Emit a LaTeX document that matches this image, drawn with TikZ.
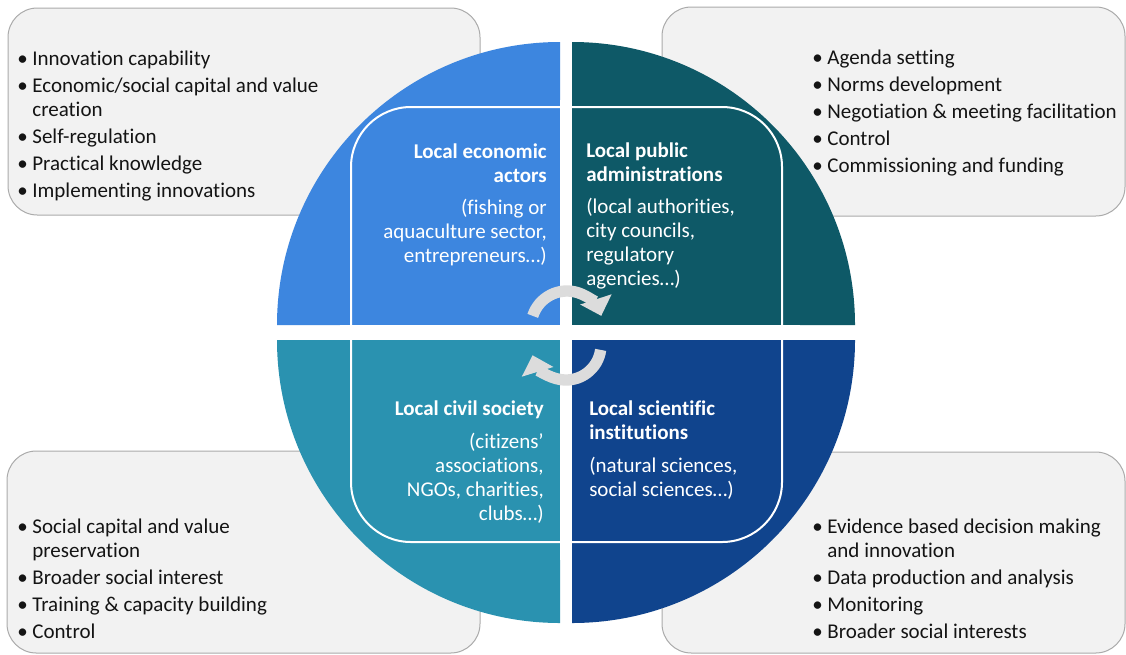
\documentclass[tikz,border=0pt]{standalone}
\usepackage{fontspec}
\setmainfont{Carlito}[Ligatures=NoCommon]
\usetikzlibrary{arrows.meta}
\definecolor{qTL}{HTML}{3D86DF}
\definecolor{qTR}{HTML}{0E5967}
\definecolor{qBL}{HTML}{2A92B0}
\definecolor{qBR}{HTML}{10448D}
\definecolor{boxfill}{HTML}{F2F2F2}
\definecolor{boxline}{HTML}{ABABAB}
\definecolor{arrowgray}{HTML}{DCDCDC}
\definecolor{listink}{HTML}{141414}
\begin{document}
\begin{tikzpicture}[x=0.75pt,y=-0.75pt,
  infobox/.style={fill=boxfill,draw=boxline,line width=0.75pt,rounded corners=22pt},
  listtext/.style={inner sep=0pt,anchor=base west,text=listink,font=\fontsize{15.75pt}{18pt}\selectfont},
  qtext/.style={inner sep=0pt,text=white,font=\fontsize{15.75pt}{18pt}\selectfont},
  cyc/.style={draw=arrowgray,line width=8.5pt,-{Triangle[width=24pt,length=13pt]}}
]
\useasboundingbox (0,0) rectangle (1126,654);
\fill[white] (0,0) rectangle (1126,654);

% grey information boxes
\path[infobox] (8,8) rectangle (480,215);
\path[infobox] (662,7) rectangle (1125,216);
\path[infobox] (7,451) rectangle (480,653);
\path[infobox] (662,452) rectangle (1125,653);

% quadrants
\fill[qTL] (560,325) -- (277,325) arc[start angle=180,end angle=270,radius=283] -- cycle;
\fill[qTR] (572,325) -- (572,42) arc[start angle=270,end angle=360,radius=283] -- cycle;
\fill[qBL] (560,340) -- (560,623) arc[start angle=90,end angle=180,radius=283] -- cycle;
\fill[qBR] (572,340) -- (855,340) arc[start angle=0,end angle=90,radius=283] -- cycle;

% inner rounded square
\draw[white,line width=1.5pt,rounded corners=45pt] (351,107) rectangle (782,542);
% gaps
\fill[white] (560,100) rectangle (572,560);
\fill[white] (340,325) rectangle (800,340);

% cycle arrows
\coordinate (cu) at (567,327);
\coordinate (cl) at (566,345);
\draw[cyc] ([shift={(198:36)}]cu) arc[start angle=198,end angle=342,radius=36];
\draw[cyc] ([shift={(8:35)}]cl) arc[start angle=8,end angle=163,radius=35];

% quadrant texts
\node[qtext,anchor=base east] (econ) at (547,158) {\begin{tabular}[t]{@{}r@{}}\textbf{Local economic}\\ \textbf{actors}\\[6pt] (fishing or\\ aquaculture sector,\\ entrepreneurs…)\end{tabular}};
\node[qtext,anchor=base west] (publ) at (586,157) {\begin{tabular}[t]{@{}l@{}}\textbf{Local public}\\ \textbf{administrations}\\[6pt] (local authorities,\\ city councils,\\ regulatory\\ agencies…)\end{tabular}};
\node[qtext,anchor=base east] (civil) at (544,415) {\begin{tabular}[t]{@{}r@{}}\textbf{Local civil society}\\[6.75pt] (citizens’\\ associations,\\ NGOs, charities,\\ clubs…)\end{tabular}};
\node[qtext,anchor=base west] (scien) at (589,415) {\begin{tabular}[t]{@{}l@{}}\textbf{Local scientific}\\ \textbf{institutions}\\[6.75pt] (natural sciences,\\ social sciences…)\end{tabular}};

% lists
\node[listtext] (listTL) at (17,65) {\begin{tabular}[t]{@{}l@{\hspace{3.5pt}}l@{}}
•&Innovation capability\\[2.25pt]
•&Economic/social capital and value\\
 &creation\\[2.25pt]
•&Self-regulation\\[2.25pt]
•&Practical knowledge\\[2.25pt]
•&Implementing innovations\end{tabular}};
\node[listtext] (listTR) at (812,64) {\begin{tabular}[t]{@{}l@{\hspace{3.5pt}}l@{}}
•&Agenda setting\\[2.25pt]
•&Norms development\\[2.25pt]
•&Negotiation \& meeting facilitation\\[2.25pt]
•&Control\\[2.25pt]
•&Commissioning and funding\end{tabular}};
\node[listtext] (listBL) at (17,533) {\begin{tabular}[t]{@{}l@{\hspace{3.5pt}}l@{}}
•&Social capital and value\\
 &preservation\\[2.25pt]
•&Broader social interest\\[2.25pt]
•&Training \& capacity building\\[2.25pt]
•&Control\end{tabular}};
\node[listtext] (listBR) at (812,533) {\begin{tabular}[t]{@{}l@{\hspace{3.5pt}}l@{}}
•&Evidence based decision making\\
 &and innovation\\[2.25pt]
•&Data production and analysis\\[2.25pt]
•&Monitoring\\[2.25pt]
•&Broader social interests\end{tabular}};
\end{tikzpicture}
\end{document}
